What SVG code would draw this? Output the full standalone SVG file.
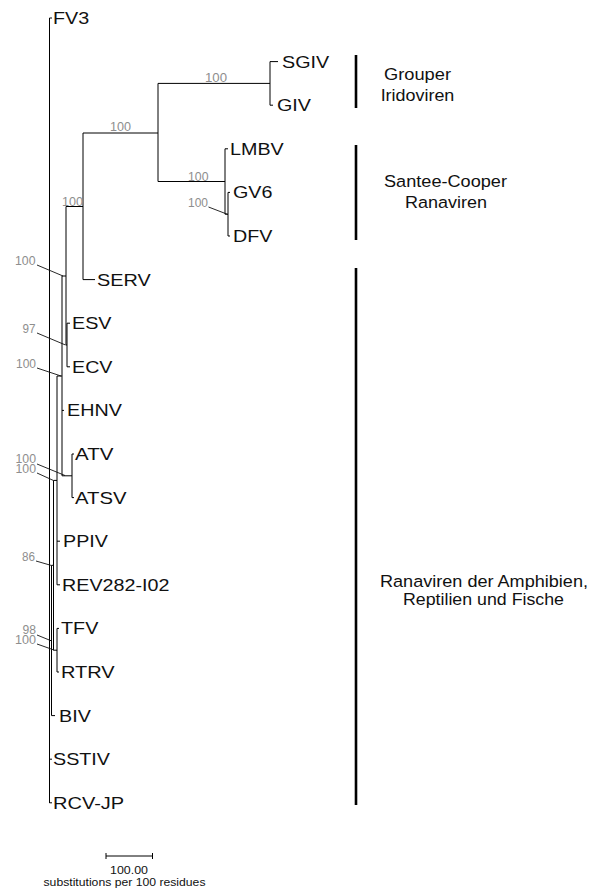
<svg xmlns="http://www.w3.org/2000/svg" width="603" height="888" viewBox="0 0 603 888">
<style>
.leaf{font-family:"Liberation Sans",Arial,sans-serif;font-size:17px;fill:#111}
.boot{font-family:"Liberation Sans",Arial,sans-serif;font-size:12.5px;fill:#8e8e8e}
.grp{font-family:"Liberation Sans",Arial,sans-serif;font-size:16.3px;fill:#111;text-anchor:middle}
.scl{font-family:"Liberation Sans",Arial,sans-serif;fill:#111;text-anchor:middle}
.br{fill:none;stroke:#000;stroke-width:1}
.ld{fill:none;stroke:#111;stroke-width:0.9}
.bk{fill:none;stroke:#000;stroke-width:2.6}
</style>
<rect width="603" height="888" fill="#fff"/>
<g id="connectors">
<path class="br" d="M49.5 18 V803 M49.5 18 H52 M49.5 759.2 H52 M49.5 802.8 H52
M49.5 640.5 H51.5 M51.5 565.3 V715.6 H55
M51.5 565.3 H53.5 M53.5 480.4 V650.2
M53.5 650.2 H57 M57 628.4 V672 M57 628.4 H59 M57 672 H59
M53.5 480.4 H57 M57 376 V584.8 M57 541.2 H60 M57 584.8 H60
M57 376 H62 M62 276 V475.8 M62 410.4 H64
M62 475.8 H72 M72 454 V497.6 M72 454 H74 M72 497.6 H74
M62 276 H66 M66 206.5 V345
M66 345 H67 M67 323.2 V366.8 M67 323.2 H70 M67 366.8 H70
M66 206.5 H83 M83 133 V279.6 H95
M83 133 H158 M158 83.4 V181.5
M158 83.4 H270 M270 61.6 V105.2 M270 61.6 H278 M270 105.2 H273
M158 181.5 H225 M225 148.8 V214.2 M225 148.8 H228
M225 214.2 H228 M228 192.4 V236 M228 192.4 H230 M228 236 H230"/>
<path class="ld" d="M208.5 207 L228 214.5 M37 265 L63 276 M37 333 L65.5 345 M37 368 L61 376 M37 464 L65 475.5 M37 473 L53.5 480.5 M36 561 L51.5 565.5 M37 635 L50.5 640.5 M37 644 L54 650"/>
</g>
<g id="bootstrap">
<text class="boot" x="205" y="82" textLength="22" lengthAdjust="spacingAndGlyphs">100</text>
<text class="boot" x="110" y="131" textLength="21" lengthAdjust="spacingAndGlyphs">100</text>
<text class="boot" x="188" y="181" textLength="20.5" lengthAdjust="spacingAndGlyphs">100</text>
<text class="boot" x="188" y="207" textLength="20" lengthAdjust="spacingAndGlyphs">100</text>
<text class="boot" x="62" y="205.5" textLength="21" lengthAdjust="spacingAndGlyphs">100</text>
<text class="boot" x="15" y="265" textLength="20.5" lengthAdjust="spacingAndGlyphs">100</text>
<text class="boot" x="22.5" y="333" textLength="13" lengthAdjust="spacingAndGlyphs">97</text>
<text class="boot" x="16" y="368" textLength="20" lengthAdjust="spacingAndGlyphs">100</text>
<text class="boot" x="15.5" y="463" textLength="20.5" lengthAdjust="spacingAndGlyphs">100</text>
<text class="boot" x="15.5" y="473" textLength="20.5" lengthAdjust="spacingAndGlyphs">100</text>
<text class="boot" x="22" y="561" textLength="13" lengthAdjust="spacingAndGlyphs">86</text>
<text class="boot" x="22.5" y="634" textLength="13.5" lengthAdjust="spacingAndGlyphs">98</text>
<text class="boot" x="15" y="644" textLength="21" lengthAdjust="spacingAndGlyphs">100</text>
</g>
<g id="leaf-FV3"><text class="leaf" x="53" y="24" textLength="36.2" lengthAdjust="spacingAndGlyphs">FV3</text></g>
<g id="leaf-SGIV"><text class="leaf" x="282" y="67.6" textLength="47.1" lengthAdjust="spacingAndGlyphs">SGIV</text></g>
<g id="leaf-GIV"><text class="leaf" x="277" y="111.2" textLength="34" lengthAdjust="spacingAndGlyphs">GIV</text></g>
<g id="leaf-LMBV"><text class="leaf" x="230" y="154.8" textLength="53.7" lengthAdjust="spacingAndGlyphs">LMBV</text></g>
<g id="leaf-GV6"><text class="leaf" x="233" y="198.4" textLength="39.5" lengthAdjust="spacingAndGlyphs">GV6</text></g>
<g id="leaf-DFV"><text class="leaf" x="233" y="242" textLength="39.4" lengthAdjust="spacingAndGlyphs">DFV</text></g>
<g id="leaf-SERV"><text class="leaf" x="97" y="285.6" textLength="53.7" lengthAdjust="spacingAndGlyphs">SERV</text></g>
<g id="leaf-ESV"><text class="leaf" x="72" y="329.2" textLength="39.5" lengthAdjust="spacingAndGlyphs">ESV</text></g>
<g id="leaf-ECV"><text class="leaf" x="72" y="372.8" textLength="40.5" lengthAdjust="spacingAndGlyphs">ECV</text></g>
<g id="leaf-EHNV"><text class="leaf" x="67" y="416.4" textLength="54.8" lengthAdjust="spacingAndGlyphs">EHNV</text></g>
<g id="leaf-ATV"><text class="leaf" x="75" y="460" textLength="38.4" lengthAdjust="spacingAndGlyphs">ATV</text></g>
<g id="leaf-ATSV"><text class="leaf" x="75" y="503.6" textLength="51.5" lengthAdjust="spacingAndGlyphs">ATSV</text></g>
<g id="leaf-PPIV"><text class="leaf" x="63" y="547.2" textLength="44.9" lengthAdjust="spacingAndGlyphs">PPIV</text></g>
<g id="leaf-REV282-I02"><text class="leaf" x="62" y="590.8" textLength="107.4" lengthAdjust="spacingAndGlyphs">REV282-I02</text></g>
<g id="leaf-TFV"><text class="leaf" x="61" y="634.4" textLength="37.3" lengthAdjust="spacingAndGlyphs">TFV</text></g>
<g id="leaf-RTRV"><text class="leaf" x="61" y="678" textLength="53.7" lengthAdjust="spacingAndGlyphs">RTRV</text></g>
<g id="leaf-BIV"><text class="leaf" x="59" y="721.6" textLength="31.8" lengthAdjust="spacingAndGlyphs">BIV</text></g>
<g id="leaf-SSTIV"><text class="leaf" x="53" y="765.2" textLength="57" lengthAdjust="spacingAndGlyphs">SSTIV</text></g>
<g id="leaf-RCV-JP"><text class="leaf" x="53" y="808.8" textLength="71.2" lengthAdjust="spacingAndGlyphs">RCV-JP</text></g>
<g id="clade-grouper">
<line class="bk" x1="356" y1="55" x2="356" y2="108"/>
<text class="grp" x="417.5" y="80" textLength="67" lengthAdjust="spacingAndGlyphs">Grouper</text>
<text class="grp" x="417.5" y="101" textLength="73.7" lengthAdjust="spacingAndGlyphs">Iridoviren</text>
</g>
<g id="clade-santee">
<line class="bk" x1="356" y1="145" x2="356" y2="240"/>
<text class="grp" x="445.5" y="186.5" textLength="123" lengthAdjust="spacingAndGlyphs">Santee-Cooper</text>
<text class="grp" x="446" y="208" textLength="82" lengthAdjust="spacingAndGlyphs">Ranaviren</text>
</g>
<g id="clade-ranaviren">
<line class="bk" x1="356" y1="268" x2="356" y2="805"/>
<text class="grp" x="484" y="586.5" textLength="208" lengthAdjust="spacingAndGlyphs">Ranaviren der Amphibien,</text>
<text class="grp" x="483.5" y="605" textLength="161" lengthAdjust="spacingAndGlyphs">Reptilien und Fische</text>
</g>
<g id="scale">
<path class="br" d="M106 856 H152.5 M106 853 V859 M152.5 853 V859"/>
<text class="scl" x="129" y="874" font-size="10.5" textLength="38" lengthAdjust="spacingAndGlyphs">100.00</text>
<text class="scl" x="124.5" y="885.5" font-size="11" textLength="162" lengthAdjust="spacingAndGlyphs">substitutions per 100 residues</text>
</g>
</svg>
